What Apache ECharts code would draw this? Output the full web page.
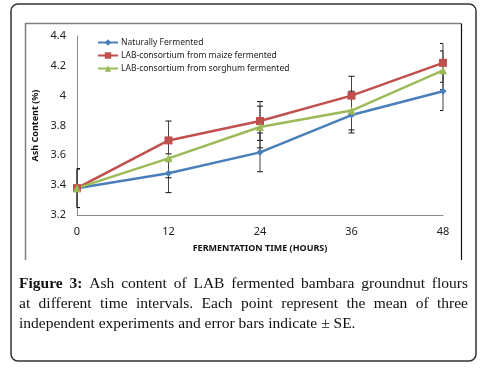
<!DOCTYPE html>
<html>
<head>
    <meta charset="utf-8">
    <title>Ash content</title>
    <script src="https://cdn.jsdelivr.net/npm/echarts@6/dist/echarts.min.js"></script>
    <style>
        html, body { margin: 0; padding: 0; background: #fff; }
    </style>
</head>
<body>
    <div id="main" style="width: 488px;height:375px;"></div>
    <script type="text/javascript">
        // values
        var hours = [0, 12, 24, 36, 48];
        var natural = [3.38, 3.48, 3.62, 3.87, 4.03];
        var maize = [3.38, 3.70, 3.83, 4.00, 4.22];
        var sorghum = [3.38, 3.58, 3.79, 3.90, 4.17];
        var naturalSE = [0.13, 0.13, 0.13, 0.12, 0.13];
        var maizeSE = [0.13, 0.13, 0.13, 0.13, 0.13];
        var sorghumSE = [0.13, 0.13, 0.14, 0.13, 0.13];
        var seriesNames = ['Naturally Fermented', 'LAB-consortium from maize fermented', 'LAB-consortium from sorghum fermented'];
        var yTicks = { min: 3.2, max: 4.4, interval: 0.2 };
        var xTicks = { min: 0, max: 48, interval: 12 };
        var captionLines = [
            'Figure 3: Ash content of LAB fermented bambara groundnut flours',
            'at different time intervals. Each point represent the mean of three',
            'independent experiments and error bars indicate \u00b1 SE.'
        ];

        var dom = document.getElementById('main');
        var myChart = echarts.init(dom);

        function pairs(vals) {
            return hours.map(function (h, i) { return [h, vals[i]]; });
        }
        function bars(vals, se) {
            return hours.map(function (h, i) { return [h, vals[i] - se[i], vals[i] + se[i]]; });
        }

        // error bar: caps are cut at the plot edges, like in the figure
        function renderErr(params, api) {
            var x = api.value(0);
            var top = api.coord([x, api.value(2)]);
            var bot = api.coord([x, api.value(1)]);
            var cs = params.coordSys;
            var hw = 3;
            var x1 = Math.max(top[0] - hw, cs.x);
            var x2 = Math.min(top[0] + hw, cs.x + cs.width);
            var st = { stroke: '#111', lineWidth: 1 };
            return {
                type: 'group',
                children: [
                    { type: 'line', shape: { x1: top[0], y1: top[1], x2: bot[0], y2: bot[1] }, style: { stroke: '#444', lineWidth: 1 } },
                    { type: 'line', shape: { x1: x1, y1: top[1], x2: x2, y2: top[1] }, style: st },
                    { type: 'line', shape: { x1: x1, y1: bot[1], x2: x2, y2: bot[1] }, style: st }
                ]
            };
        }

        function errSeries(vals, se) {
            return {
                type: 'custom',
                renderItem: renderErr,
                data: bars(vals, se),
                encode: { x: 0, y: [1, 2] },
                silent: true,
                z: 1
            };
        }

        // caption, justified word by word
        var measure = document.createElement('canvas').getContext('2d');
        var capSize = 15.5;
        var capFamily = '"Liberation Serif", "DejaVu Serif", serif';
        var capLeft = 19, capRight = 468;
        var captionY = [285, 305, 325];
        var caption = [];
        captionLines.forEach(function (line, li) {
            var words = line.split(' ');
            var fonts = words.map(function (w, wi) {
                return (li === 0 && wi < 2 ? 'bold ' : '') + capSize + 'px ' + capFamily;
            });
            var widths = words.map(function (w, wi) {
                measure.font = fonts[wi];
                return measure.measureText(w).width;
            });
            var sum = widths.reduce(function (a, b) { return a + b; }, 0);
            var justify = li < captionLines.length - 1;
            var gap = justify ? (capRight - capLeft - sum) / (words.length - 1) : capSize * 0.25;
            var x = capLeft;
            words.forEach(function (w, wi) {
                caption.push({
                    type: 'text',
                    left: x,
                    top: captionY[li] - capSize * 0.6,
                    style: {
                        text: w,
                        font: fonts[wi],
                        fill: '#111'
                    }
                });
                x += widths[wi] + gap;
            });
        });

        var option = {
            animation: false,
            backgroundColor: '#fff',
            textStyle: { fontFamily: '"Noto Sans", sans-serif' },
            legend: {
                data: seriesNames,
                orient: 'vertical',
                left: 92,
                top: 33,
                itemWidth: 20,
                itemHeight: 8,
                itemGap: 4,
                textStyle: { fontSize: 8.5, color: '#222', padding: [0, 0, 0, -2] }
            },
            grid: {
                left: 77,
                right: 45,
                top: 36,
                bottom: 160
            },
            xAxis: {
                type: 'value',
                min: xTicks.min,
                max: xTicks.max,
                interval: xTicks.interval,
                name: 'FERMENTATION TIME (HOURS)',
                nameLocation: 'middle',
                nameGap: 29,
                nameTextStyle: { fontSize: 9, fontWeight: 'bold', color: '#111' },
                axisLine: { lineStyle: { color: '#8a8a8a', width: 1 } },
                axisTick: { show: false },
                splitLine: { show: false },
                axisLabel: { fontSize: 11, color: '#222', margin: 11 }
            },
            yAxis: {
                type: 'value',
                min: yTicks.min,
                max: yTicks.max,
                interval: yTicks.interval,
                name: 'Ash Content (%)',
                nameLocation: 'middle',
                nameGap: 27,
                nameTextStyle: { fontSize: 9, fontWeight: 'bold', color: '#111' },
                axisLine: { show: true, lineStyle: { color: '#8a8a8a', width: 1 } },
                axisTick: { show: false },
                splitLine: { show: false },
                axisLabel: { fontSize: 11, color: '#222', margin: 11 }
            },
            series: [
                errSeries(natural, naturalSE),
                errSeries(maize, maizeSE),
                errSeries(sorghum, sorghumSE),
                {
                    name: seriesNames[0],
                    type: 'line',
                    data: pairs(natural),
                    symbol: 'diamond',
                    symbolSize: 7,
                    itemStyle: { color: '#4a7ebb' },
                    lineStyle: { width: 2.5, color: '#4a7ebb' },
                    z: 3
                },
                {
                    name: seriesNames[1],
                    type: 'line',
                    data: pairs(maize),
                    symbol: 'rect',
                    symbolSize: 8,
                    itemStyle: { color: '#c0504d' },
                    lineStyle: { width: 2.5, color: '#c0504d' },
                    z: 3
                },
                {
                    name: seriesNames[2],
                    type: 'line',
                    data: pairs(sorghum),
                    symbol: 'triangle',
                    symbolSize: 8,
                    itemStyle: { color: '#9bbb59' },
                    lineStyle: { width: 2.5, color: '#9bbb59' },
                    z: 3
                }
            ],
            graphic: [
                {
                    type: 'rect',
                    shape: { x: 11, y: 4, width: 465, height: 357, r: 7 },
                    style: { fill: 'none', stroke: '#333', lineWidth: 1.5 },
                    silent: true
                },
                {
                    type: 'polyline',
                    shape: { points: [[25.5, 260], [25.5, 23.5], [461, 23.5]] },
                    style: { fill: 'none', stroke: '#7f7f7f', lineWidth: 1.5 },
                    silent: true
                },
                {
                    type: 'line',
                    shape: { x1: 461.5, y1: 23.5, x2: 461.5, y2: 260 },
                    style: { stroke: '#111', lineWidth: 1.2 },
                    silent: true
                }
            ].concat(caption)
        };

        if (option && typeof option === 'object') {
            myChart.setOption(option, true);
        }
    </script>
</body>
</html>
